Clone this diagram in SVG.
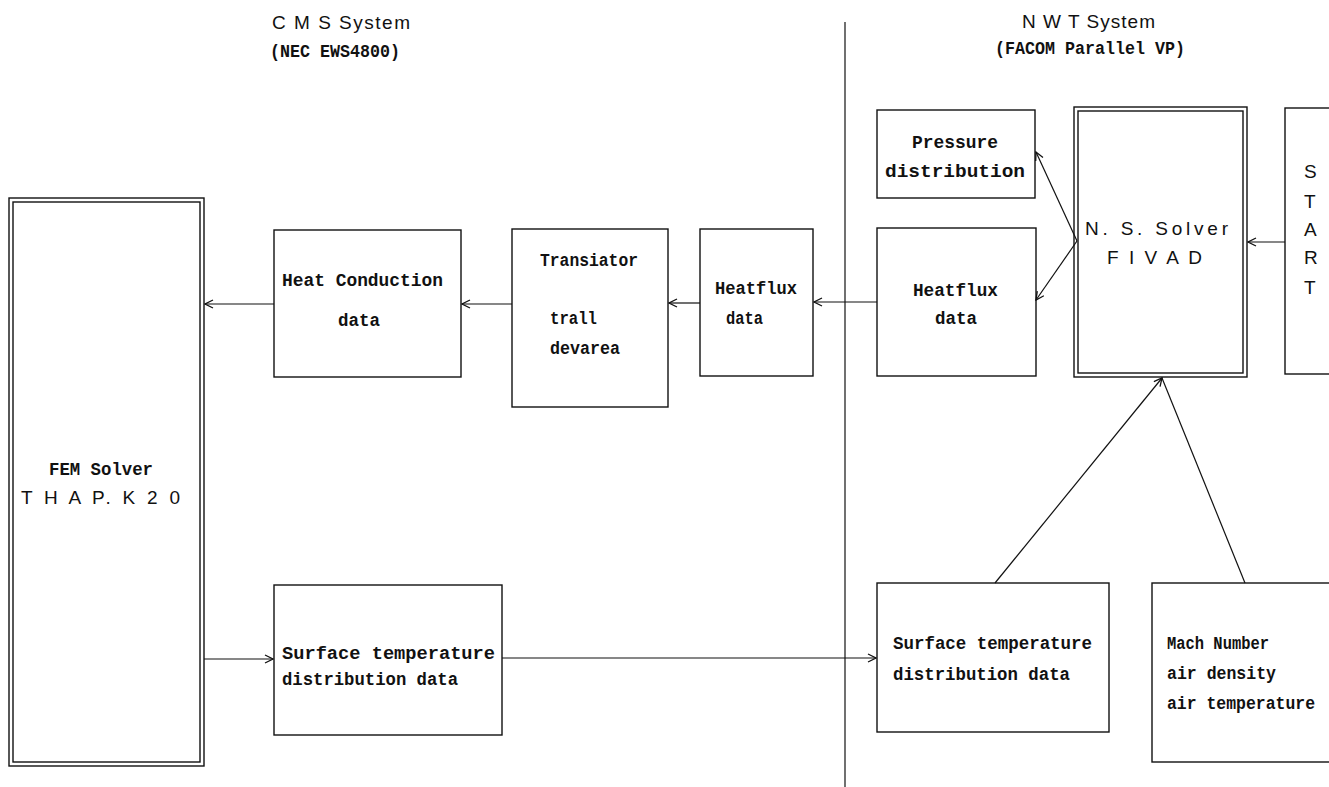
<svg xmlns="http://www.w3.org/2000/svg" width="1329" height="787" viewBox="0 0 1329 787">
<defs>
<marker id="ah" markerWidth="10" markerHeight="10" refX="9" refY="5" orient="auto" markerUnits="userSpaceOnUse">
<path d="M1,1 L9,5 L1,9" fill="none" stroke="#111" stroke-width="1.3"/>
</marker>
<style>
.bx{fill:#fff;stroke:#111;stroke-width:1.4}
.ln{fill:none;stroke:#111;stroke-width:1.2}
.t{font-family:"Liberation Mono","DejaVu Sans Mono",monospace;font-size:19px;fill:#111;font-weight:bold}
.tl{font-family:"Liberation Sans","DejaVu Sans",sans-serif;font-size:19px;fill:#111}
</style>
</defs>
<rect width="1329" height="787" fill="#fff"/>
<g id="divider"><line class="ln" x1="845" y1="22" x2="845" y2="787"/></g>
<g id="titles">
<text class="tl" x="272" y="29" textLength="138" lengthAdjust="spacing">C M S   System</text>
<text class="t" x="270" y="57" textLength="130" lengthAdjust="spacingAndGlyphs">(NEC EWS4800)</text>
<text class="tl" x="1022" y="28" textLength="133" lengthAdjust="spacing">N W T   System</text>
<text class="t" x="995" y="54" textLength="190" lengthAdjust="spacingAndGlyphs">(FACOM Parallel VP)</text>
</g>
<g id="fem">
<rect class="bx" x="9" y="198" width="195" height="568"/>
<rect class="bx" x="13" y="202" width="187" height="560"/>
<text class="t" x="49" y="475" textLength="104" lengthAdjust="spacingAndGlyphs">FEM Solver</text>
<text class="tl" x="21" y="504" textLength="159" lengthAdjust="spacing">T H A P.  K 2 0</text>
</g>
<g id="heatcond">
<rect class="bx" x="274" y="230" width="187" height="147"/>
<text class="t" x="282" y="286" textLength="161" lengthAdjust="spacingAndGlyphs">Heat Conduction</text>
<text class="t" x="338" y="326" textLength="42" lengthAdjust="spacingAndGlyphs">data</text>
</g>
<g id="translator">
<rect class="bx" x="512" y="229" width="156" height="178"/>
<text class="t" x="540" y="266" textLength="98" lengthAdjust="spacingAndGlyphs">Transiator</text>
<text class="t" x="550" y="324" textLength="47" lengthAdjust="spacingAndGlyphs">trall</text>
<text class="t" x="550" y="354" textLength="70" lengthAdjust="spacingAndGlyphs">devarea</text>
</g>
<g id="heatflux-cms">
<rect class="bx" x="700" y="229" width="113" height="147"/>
<text class="t" x="715" y="294" textLength="82" lengthAdjust="spacingAndGlyphs">Heatflux</text>
<text class="t" x="726" y="324" textLength="37" lengthAdjust="spacingAndGlyphs">data</text>
</g>
<g id="heatflux-nwt">
<rect class="bx" x="877" y="228" width="159" height="148"/>
<text class="t" x="913" y="296" textLength="85" lengthAdjust="spacingAndGlyphs">Heatflux</text>
<text class="t" x="935" y="324" textLength="42" lengthAdjust="spacingAndGlyphs">data</text>
</g>
<g id="pressure">
<rect class="bx" x="877" y="110" width="158" height="88"/>
<text class="t" x="912" y="148" textLength="86" lengthAdjust="spacingAndGlyphs">Pressure</text>
<text class="t" x="885" y="177" textLength="140" lengthAdjust="spacingAndGlyphs">distribution</text>
</g>
<g id="nssolver">
<rect class="bx" x="1074" y="107" width="173" height="270"/>
<rect class="bx" x="1078" y="111" width="165" height="262"/>
<text class="tl" x="1085" y="235" textLength="143" lengthAdjust="spacing">N.  S.  Solver</text>
<text class="tl" x="1107" y="264" textLength="95" lengthAdjust="spacing">F I V A D</text>
</g>
<g id="start">
<rect class="bx" x="1285" y="108" width="60" height="266"/>
<text class="tl" x="1304" y="178">S</text>
<text class="tl" x="1304" y="208">T</text>
<text class="tl" x="1304" y="236">A</text>
<text class="tl" x="1304" y="264">R</text>
<text class="tl" x="1304" y="294">T</text>
</g>
<g id="surface-cms">
<rect class="bx" x="274" y="585" width="228" height="150"/>
<text class="t" x="282" y="659" textLength="213" lengthAdjust="spacingAndGlyphs">Surface temperature</text>
<text class="t" x="282" y="685" textLength="176" lengthAdjust="spacingAndGlyphs">distribution data</text>
</g>
<g id="surface-nwt">
<rect class="bx" x="877" y="583" width="232" height="149"/>
<text class="t" x="893" y="649" textLength="199" lengthAdjust="spacingAndGlyphs">Surface temperature</text>
<text class="t" x="893" y="680" textLength="177" lengthAdjust="spacingAndGlyphs">distribution data</text>
</g>
<g id="mach">
<rect class="bx" x="1152" y="583" width="200" height="179"/>
<text class="t" x="1167" y="649" textLength="102" lengthAdjust="spacingAndGlyphs">Mach Number</text>
<text class="t" x="1167" y="679" textLength="109" lengthAdjust="spacingAndGlyphs">air density</text>
<text class="t" x="1167" y="709" textLength="148" lengthAdjust="spacingAndGlyphs">air temperature</text>
</g>
<g id="connectors">
<line class="ln" x1="274" y1="304" x2="205" y2="304" marker-end="url(#ah)"/>
<line class="ln" x1="512" y1="304" x2="462" y2="304" marker-end="url(#ah)"/>
<line class="ln" x1="700" y1="303" x2="669" y2="303" marker-end="url(#ah)"/>
<line class="ln" x1="877" y1="302" x2="814" y2="302" marker-end="url(#ah)"/>
<line class="ln" x1="1077" y1="241" x2="1036" y2="152" marker-end="url(#ah)"/>
<line class="ln" x1="1077" y1="241" x2="1036" y2="300" marker-end="url(#ah)"/>
<line class="ln" x1="1285" y1="242" x2="1248" y2="242" marker-end="url(#ah)"/>
<line class="ln" x1="204" y1="659" x2="273" y2="659" marker-end="url(#ah)"/>
<line class="ln" x1="502" y1="658" x2="876" y2="658" marker-end="url(#ah)"/>
<line class="ln" x1="995" y1="583" x2="1162" y2="378" marker-end="url(#ah)"/>
<line class="ln" x1="1245" y1="583" x2="1162" y2="378"/>
</g>
</svg>
